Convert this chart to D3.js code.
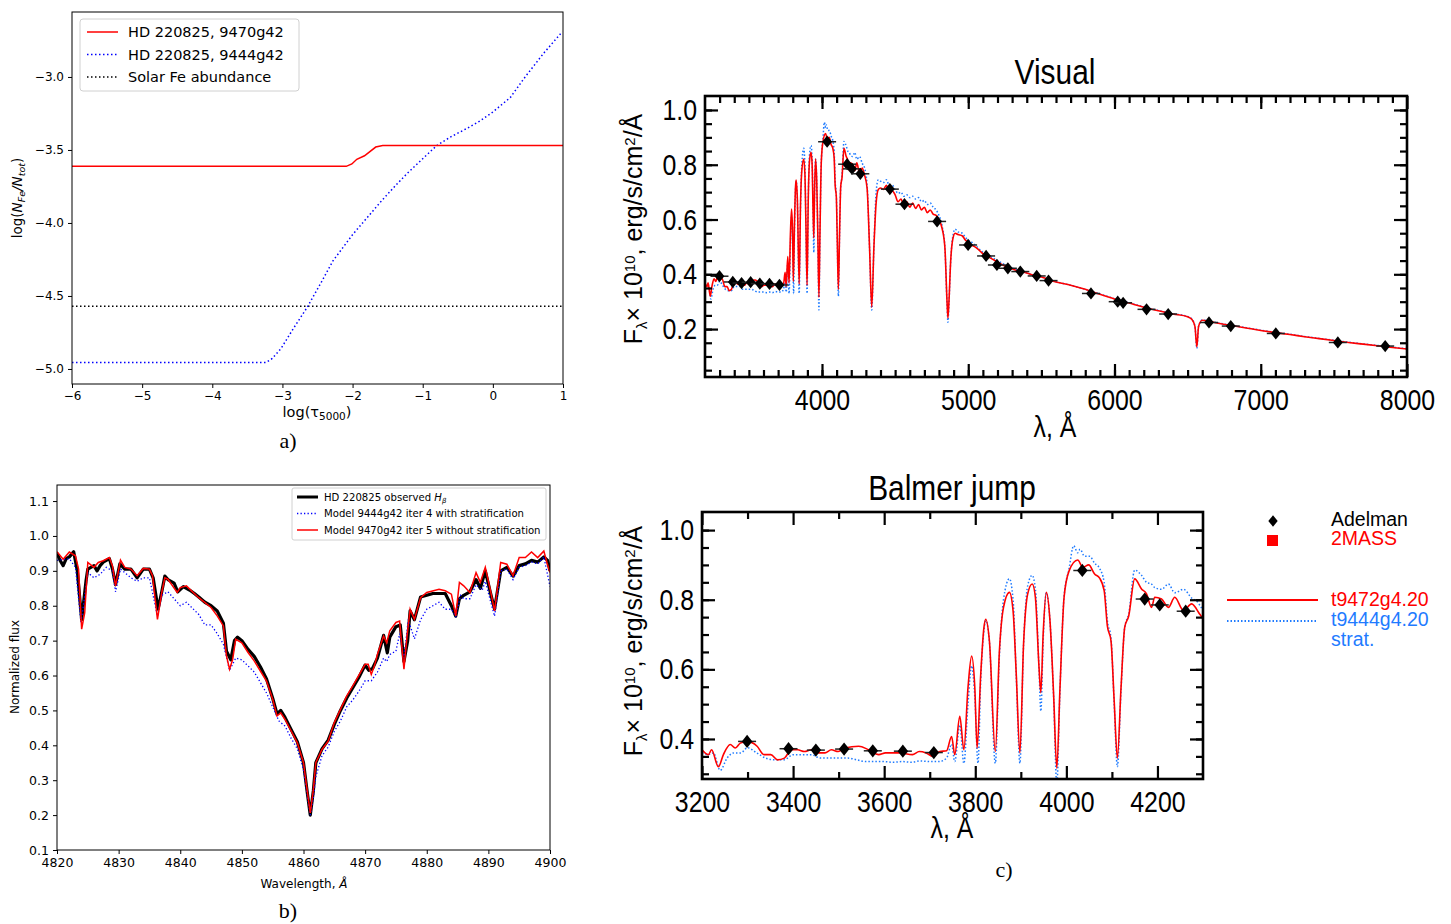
<!DOCTYPE html>
<html>
<head>
<meta charset="utf-8">
<script src="https://cdn.jsdelivr.net/npm/d3@7"></script>
<style>
  body { margin: 0; background: #fff; }
  svg { display: block; }
</style>
</head>
<body>
<svg id="fig" width="1451" height="924"></svg>
<script>
//// data: panel a (Fe stratification)
const tauTicks = [-6, -5, -4, -3, -2, -1, 0, 1];
const abundTicks = [-5.0, -4.5, -4.0, -3.5, -3.0];
const abundNoStrat = [[-6, -3.612], [-2.09, -3.612], [-2.01, -3.596], [-1.94, -3.564], [-1.83, -3.54], [-1.67, -3.48], [-1.57, -3.47], [1, -3.47]];
const abundStrat = [[-6, -4.955], [-3.23, -4.955], [-3.15, -4.93], [-3.02, -4.86], [-2.84, -4.72], [-2.65, -4.58], [-2.45, -4.41], [-2.28, -4.26], [-2.0, -4.08], [-1.75, -3.94], [-1.59, -3.85], [-1.4, -3.75], [-1.23, -3.665], [-1.0, -3.56], [-0.8, -3.47], [-0.6, -3.41], [-0.38, -3.355], [-0.18, -3.3], [0.0, -3.24], [0.25, -3.14], [0.46, -3.0], [0.72, -2.84], [0.99, -2.69]];
const solarFe = -4.57;

//// data: panel b (H beta profile)
const waveTicks = [4820, 4830, 4840, 4850, 4860, 4870, 4880, 4890, 4900];
const fluxTicks = [0.1, 0.2, 0.3, 0.4, 0.5, 0.6, 0.7, 0.8, 0.9, 1.0, 1.1];
const obsHb = [[4820, 0.95], [4820.5, 0.93], [4821, 0.915], [4821.5, 0.935], [4822, 0.94], [4822.7, 0.955], [4823.3, 0.9], [4824, 0.76], [4824.7, 0.87], [4825, 0.905], [4825.5, 0.91], [4826, 0.915], [4826.5, 0.9], [4827, 0.915], [4827.5, 0.925], [4828.5, 0.935], [4829, 0.905], [4829.5, 0.86], [4830.2, 0.92], [4831, 0.905], [4832, 0.905], [4833, 0.88], [4834, 0.905], [4835, 0.905], [4835.6, 0.88], [4836.4, 0.79], [4837, 0.84], [4837.5, 0.885], [4838, 0.875], [4839, 0.865], [4839.6, 0.84], [4840.5, 0.855], [4841.5, 0.845], [4842.3, 0.835], [4843, 0.825], [4844, 0.81], [4845, 0.8], [4846, 0.785], [4847, 0.75], [4847.5, 0.67], [4848.2, 0.645], [4848.8, 0.7], [4849.3, 0.71], [4850, 0.7], [4851, 0.675], [4852, 0.655], [4853, 0.625], [4854, 0.59], [4855, 0.535], [4855.7, 0.49], [4856.3, 0.5], [4857, 0.48], [4858, 0.445], [4859, 0.41], [4860, 0.35], [4860.5, 0.28], [4861.1, 0.2], [4861.6, 0.27], [4862, 0.35], [4863, 0.39], [4864, 0.415], [4865, 0.46], [4866, 0.5], [4867, 0.535], [4868, 0.565], [4869, 0.595], [4870, 0.63], [4870.6, 0.615], [4871.2, 0.62], [4872, 0.65], [4873, 0.715], [4873.6, 0.665], [4874, 0.71], [4875, 0.74], [4875.7, 0.745], [4876.3, 0.64], [4876.9, 0.7], [4877.3, 0.785], [4878, 0.76], [4879, 0.825], [4880, 0.83], [4881, 0.835], [4882, 0.835], [4883, 0.835], [4884, 0.8], [4884.7, 0.77], [4885.3, 0.82], [4886, 0.83], [4887, 0.84], [4888, 0.875], [4888.7, 0.85], [4889.5, 0.9], [4890.3, 0.84], [4891, 0.79], [4892, 0.9], [4893, 0.91], [4894, 0.885], [4895, 0.915], [4896, 0.92], [4897, 0.93], [4898, 0.925], [4899, 0.94], [4899.6, 0.93], [4900, 0.9]];
const modelStratHb = [[4820, 0.93], [4822, 0.935], [4823, 0.91], [4823.9, 0.75], [4825, 0.895], [4826, 0.88], [4827, 0.89], [4828, 0.91], [4829, 0.9], [4829.5, 0.84], [4830.3, 0.905], [4832, 0.88], [4833, 0.87], [4834, 0.88], [4835, 0.88], [4836.3, 0.77], [4837, 0.83], [4838, 0.84], [4839.5, 0.81], [4840, 0.8], [4841, 0.81], [4843, 0.775], [4844, 0.745], [4845, 0.745], [4846, 0.72], [4847, 0.69], [4848, 0.615], [4849, 0.65], [4850, 0.645], [4852, 0.61], [4854, 0.55], [4855, 0.51], [4856, 0.47], [4857, 0.455], [4858, 0.42], [4859, 0.39], [4860, 0.33], [4860.5, 0.27], [4861.1, 0.2], [4861.6, 0.25], [4862, 0.31], [4863, 0.37], [4864, 0.395], [4865, 0.44], [4866, 0.47], [4867, 0.51], [4868, 0.53], [4869, 0.555], [4870, 0.585], [4871, 0.585], [4872, 0.61], [4873, 0.65], [4873.5, 0.64], [4874, 0.66], [4875, 0.67], [4875.6, 0.72], [4876.3, 0.65], [4877, 0.76], [4878, 0.705], [4879, 0.76], [4880, 0.79], [4881, 0.8], [4882, 0.81], [4883, 0.79], [4884, 0.79], [4884.7, 0.77], [4885.5, 0.83], [4886, 0.82], [4887, 0.82], [4888, 0.86], [4889, 0.845], [4889.5, 0.87], [4891, 0.77], [4892, 0.9], [4893, 0.905], [4894, 0.875], [4895, 0.91], [4896, 0.915], [4897, 0.925], [4898, 0.92], [4899, 0.94], [4900, 0.855]];
const modelNoStratHb = [[4820, 0.955], [4821, 0.933], [4822, 0.954], [4823, 0.943], [4823.5, 0.905], [4824, 0.733], [4824.5, 0.78], [4825, 0.924], [4826, 0.91], [4826.7, 0.924], [4827.5, 0.929], [4828.5, 0.938], [4829, 0.914], [4829.5, 0.857], [4830.3, 0.931], [4831, 0.91], [4832, 0.905], [4833, 0.886], [4834, 0.907], [4835, 0.905], [4835.5, 0.886], [4836.3, 0.761], [4837, 0.838], [4837.5, 0.88], [4838, 0.876], [4839.5, 0.838], [4840, 0.852], [4841, 0.857], [4843, 0.823], [4845, 0.795], [4846, 0.771], [4847, 0.742], [4847.5, 0.656], [4848, 0.618], [4848.5, 0.646], [4849, 0.704], [4850, 0.694], [4851, 0.666], [4852, 0.642], [4853, 0.613], [4854, 0.584], [4855, 0.532], [4855.7, 0.484], [4856.3, 0.493], [4857, 0.474], [4858, 0.441], [4859, 0.407], [4860, 0.35], [4860.5, 0.283], [4861.1, 0.206], [4861.6, 0.273], [4862, 0.35], [4863, 0.388], [4864, 0.412], [4865, 0.465], [4866, 0.503], [4867, 0.541], [4868, 0.57], [4870, 0.632], [4870.5, 0.632], [4871, 0.603], [4871.5, 0.627], [4872, 0.661], [4873, 0.713], [4873.5, 0.694], [4874, 0.728], [4875, 0.752], [4875.6, 0.756], [4876, 0.675], [4876.3, 0.618], [4876.8, 0.713], [4877.3, 0.79], [4878, 0.761], [4879, 0.823], [4880, 0.838], [4882, 0.847], [4883, 0.843], [4884, 0.833], [4884.7, 0.771], [4885.3, 0.867], [4886, 0.857], [4887, 0.838], [4888, 0.895], [4888.7, 0.867], [4889.5, 0.91], [4890.3, 0.847], [4891, 0.785], [4892, 0.924], [4893, 0.919], [4894, 0.886], [4895, 0.938], [4896, 0.938], [4897, 0.954], [4898, 0.938], [4899, 0.957], [4899.5, 0.924], [4900, 0.895]];

//// data: panel c (spectral energy distribution)
const visTicksX = [4000, 5000, 6000, 7000, 8000];
const visTicksY = [0.2, 0.4, 0.6, 0.8, 1.0];
const jumpTicksX = [3200, 3400, 3600, 3800, 4000, 4200];
const jumpTicksY = [0.4, 0.6, 0.8, 1.0];
const sedNoStrat = [[3200, 0.369], [3214, 0.355], [3221, 0.369], [3236, 0.32], [3247, 0.355], [3262, 0.384], [3273, 0.374], [3284, 0.388], [3299, 0.393], [3321, 0.379], [3336, 0.355], [3351, 0.355], [3366, 0.34], [3381, 0.345], [3396, 0.369], [3410, 0.369], [3425, 0.364], [3440, 0.369], [3455, 0.36], [3470, 0.36], [3484, 0.369], [3499, 0.364], [3514, 0.374], [3544, 0.379], [3566, 0.369], [3588, 0.355], [3603, 0.36], [3633, 0.36], [3662, 0.355], [3677, 0.364], [3692, 0.36], [3707, 0.35], [3722, 0.364], [3737, 0.366], [3748, 0.407], [3755, 0.355], [3766, 0.465], [3775, 0.369], [3784, 0.547], [3792, 0.638], [3799, 0.547], [3804, 0.374], [3812, 0.586], [3819, 0.72], [3823, 0.744], [3831, 0.682], [3844, 0.364], [3853, 0.653], [3862, 0.778], [3875, 0.821], [3883, 0.768], [3890, 0.586], [3898, 0.36], [3906, 0.672], [3915, 0.816], [3925, 0.845], [3932, 0.807], [3940, 0.605], [3944, 0.533], [3949, 0.7], [3956, 0.821], [3964, 0.74], [3972, 0.528], [3979, 0.316], [3986, 0.547], [3995, 0.807], [4006, 0.883], [4025, 0.914], [4036, 0.893], [4049, 0.9], [4062, 0.874], [4073, 0.862], [4083, 0.826], [4090, 0.725], [4098, 0.682], [4105, 0.509], [4112, 0.345], [4120, 0.547], [4128, 0.72], [4137, 0.754], [4150, 0.86], [4165, 0.831], [4176, 0.817], [4187, 0.778], [4194, 0.807], [4209, 0.802], [4224, 0.778], [4238, 0.807], [4257, 0.769], [4275, 0.788], [4290, 0.764], [4308, 0.716], [4325, 0.5], [4340, 0.28], [4355, 0.5], [4370, 0.66], [4385, 0.71], [4400, 0.715], [4420, 0.71], [4440, 0.725], [4460, 0.7], [4480, 0.705], [4500, 0.69], [4520, 0.665], [4540, 0.675], [4560, 0.65], [4580, 0.665], [4600, 0.645], [4620, 0.66], [4640, 0.64], [4660, 0.655], [4680, 0.635], [4700, 0.645], [4720, 0.625], [4740, 0.635], [4760, 0.62], [4780, 0.615], [4800, 0.6], [4820, 0.57], [4840, 0.5], [4855, 0.3], [4861, 0.24], [4868, 0.3], [4880, 0.45], [4895, 0.53], [4910, 0.55], [4930, 0.545], [4960, 0.54], [4980, 0.525], [5000, 0.515], [5030, 0.505], [5060, 0.495], [5100, 0.475], [5150, 0.46], [5200, 0.445], [5250, 0.43], [5300, 0.42], [5350, 0.41], [5400, 0.405], [5450, 0.395], [5500, 0.39], [5600, 0.372], [5700, 0.36], [5800, 0.345], [5900, 0.327], [6000, 0.31], [6100, 0.295], [6200, 0.28], [6300, 0.267], [6400, 0.255], [6500, 0.245], [6530, 0.235], [6550, 0.21], [6563, 0.135], [6575, 0.21], [6600, 0.232], [6650, 0.228], [6700, 0.222], [6800, 0.213], [6900, 0.204], [7000, 0.195], [7100, 0.187], [7200, 0.18], [7300, 0.172], [7400, 0.165], [7500, 0.158], [7600, 0.151], [7700, 0.145], [7800, 0.139], [7900, 0.133], [8000, 0.127]];
const sedStrat = [[3200, 0.36], [3214, 0.355], [3225, 0.36], [3240, 0.31], [3255, 0.345], [3270, 0.36], [3285, 0.36], [3300, 0.375], [3320, 0.36], [3340, 0.345], [3360, 0.34], [3380, 0.34], [3400, 0.355], [3420, 0.355], [3440, 0.355], [3460, 0.345], [3480, 0.345], [3500, 0.345], [3520, 0.345], [3540, 0.34], [3560, 0.335], [3580, 0.335], [3600, 0.335], [3620, 0.333], [3640, 0.335], [3660, 0.333], [3680, 0.337], [3700, 0.335], [3720, 0.335], [3737, 0.345], [3748, 0.385], [3755, 0.335], [3766, 0.44], [3775, 0.33], [3784, 0.5], [3792, 0.61], [3799, 0.52], [3806, 0.33], [3812, 0.57], [3819, 0.71], [3823, 0.74], [3831, 0.68], [3844, 0.33], [3853, 0.64], [3862, 0.8], [3875, 0.86], [3883, 0.8], [3890, 0.58], [3898, 0.33], [3906, 0.67], [3915, 0.84], [3925, 0.87], [3932, 0.83], [3940, 0.6], [3944, 0.48], [3949, 0.68], [3956, 0.82], [3964, 0.74], [3972, 0.52], [3979, 0.27], [3986, 0.54], [3995, 0.81], [4006, 0.89], [4016, 0.955], [4025, 0.935], [4030, 0.945], [4040, 0.925], [4051, 0.925], [4062, 0.905], [4073, 0.89], [4083, 0.85], [4090, 0.74], [4098, 0.69], [4105, 0.5], [4112, 0.32], [4120, 0.54], [4128, 0.72], [4137, 0.76], [4150, 0.885], [4165, 0.87], [4176, 0.85], [4187, 0.845], [4194, 0.835], [4209, 0.83], [4224, 0.845], [4238, 0.82], [4257, 0.83], [4275, 0.805], [4290, 0.79], [4308, 0.73], [4325, 0.5], [4340, 0.27], [4355, 0.5], [4370, 0.7], [4385, 0.745], [4400, 0.74], [4420, 0.735], [4440, 0.745], [4460, 0.725], [4480, 0.725], [4500, 0.71], [4520, 0.695], [4540, 0.7], [4560, 0.685], [4580, 0.69], [4600, 0.68], [4620, 0.685], [4640, 0.675], [4660, 0.68], [4680, 0.665], [4700, 0.67], [4720, 0.655], [4740, 0.66], [4760, 0.645], [4780, 0.635], [4800, 0.615], [4820, 0.58], [4840, 0.5], [4855, 0.29], [4861, 0.225], [4868, 0.29], [4880, 0.45], [4895, 0.54], [4910, 0.565], [4930, 0.555], [4960, 0.55], [4980, 0.535], [5000, 0.525], [5030, 0.515], [5060, 0.5], [5100, 0.48], [5150, 0.465], [5200, 0.45], [5250, 0.435], [5300, 0.423], [5350, 0.413], [5400, 0.405], [5450, 0.397], [5500, 0.39], [5600, 0.373], [5700, 0.36], [5800, 0.345], [5900, 0.328], [6000, 0.311], [6100, 0.296], [6200, 0.281], [6300, 0.268], [6400, 0.256], [6500, 0.246], [6530, 0.236], [6550, 0.21], [6563, 0.13], [6575, 0.21], [6600, 0.233], [6650, 0.229], [6700, 0.223], [6800, 0.214], [6900, 0.205], [7000, 0.196], [7100, 0.188], [7200, 0.181], [7300, 0.173], [7400, 0.166], [7500, 0.159], [7600, 0.152], [7700, 0.146], [7800, 0.14], [7900, 0.134], [8000, 0.128]];
const adelman = [[3299, 0.393], [3390, 0.372], [3450, 0.368], [3512, 0.371], [3575, 0.366], [3641, 0.365], [3709, 0.361], [4035, 0.884], [4172, 0.802], [4205, 0.785], [4262, 0.767], [4464, 0.711], [4564, 0.656], [4787, 0.593], [4999, 0.507], [5122, 0.467], [5196, 0.434], [5271, 0.422], [5356, 0.41], [5468, 0.394], [5549, 0.377], [5839, 0.33], [6022, 0.3], [6059, 0.296], [6219, 0.272], [6367, 0.255], [6646, 0.224], [6795, 0.211], [7103, 0.184], [7527, 0.151], [7851, 0.138]];

const MPL = '"DejaVu Sans", sans-serif';
const IDL = '"Liberation Sans", Arial, sans-serif';
const SERIF = '"Liberation Serif", "Times New Roman", serif';
const RED = '#ff0000';
const BLUE = '#0000ff';
const SKY = '#1f7bff';
const NARROW = 0.83;

const svg = d3.select('#fig');
const defs = svg.append('defs');

function styleAxis(g, font, size) {
  g.select('.domain').remove();
  g.selectAll('text').attr('font-family', font).attr('font-size', size).attr('fill', '#000');
  g.selectAll('line').attr('stroke', '#000');
}

// squeeze text horizontally about its anchor point (IDL fonts are narrow)
function condense(sel) {
  sel.each(function () {
    const t = d3.select(this);
    const x = +t.attr('x') || 0;
    const y = +t.attr('y') || 0;
    t.attr('x', 0).attr('y', 0).attr('transform', `translate(${x},${y}) scale(${NARROW},1)`);
  });
}

function clipFor(id, x, y) {
  defs.append('clipPath').attr('id', id).append('rect')
    .attr('x', x.range()[0]).attr('y', y.range()[1])
    .attr('width', x.range()[1] - x.range()[0])
    .attr('height', y.range()[0] - y.range()[1]);
}

////////////// panel a
const xA = d3.scaleLinear().domain([-6, 1]).range([72, 563]);
const yA = d3.scaleLinear().domain([-5.103, -2.555]).range([384, 12]);
const lineA = d3.line().x(d => xA(d[0])).y(d => yA(d[1]));
clipFor('clipA', xA, yA);
const plotA = svg.append('g').attr('clip-path', 'url(#clipA)');

plotA.append('path').datum([[-6, solarFe], [1, solarFe]])
  .attr('d', lineA).attr('fill', 'none').attr('stroke', '#000')
  .attr('stroke-width', 1.5).attr('stroke-dasharray', '1.5,2.5');
plotA.append('path').datum(abundStrat)
  .attr('d', lineA).attr('fill', 'none').attr('stroke', BLUE)
  .attr('stroke-width', 1.5).attr('stroke-dasharray', '1.5,2.5');
plotA.append('path').datum(abundNoStrat)
  .attr('d', lineA).attr('fill', 'none').attr('stroke', RED).attr('stroke-width', 1.5);

const axA = svg.append('g').attr('transform', 'translate(0,384)')
  .call(d3.axisBottom(xA).tickValues(tauTicks).tickSize(4).tickPadding(3).tickFormat(d3.format('d')));
styleAxis(axA, MPL, 12);
const ayA = svg.append('g').attr('transform', 'translate(72,0)')
  .call(d3.axisLeft(yA).tickValues(abundTicks).tickSize(4).tickPadding(4).tickFormat(d3.format('.1f')));
styleAxis(ayA, MPL, 12);
svg.append('rect').attr('x', 72).attr('y', 12).attr('width', 491).attr('height', 372)
  .attr('fill', 'none').attr('stroke', '#000').attr('stroke-width', 1);

// legend a
const legA = svg.append('g');
legA.append('rect').attr('x', 80).attr('y', 19).attr('width', 219).attr('height', 72).attr('rx', 3)
  .attr('fill', '#fff').attr('fill-opacity', 0.8).attr('stroke', '#d0d0d0');
const legAItems = [
  { label: 'HD 220825, 9470g42', color: RED, dash: null },
  { label: 'HD 220825, 9444g42', color: BLUE, dash: '1.5,2.5' },
  { label: 'Solar Fe abundance', color: '#000', dash: '1.5,2.5' }
];
legAItems.forEach((d, i) => {
  const yy = 32 + i * 22.5;
  legA.append('line').attr('x1', 87).attr('x2', 118).attr('y1', yy).attr('y2', yy)
    .attr('stroke', d.color).attr('stroke-width', 1.5).attr('stroke-dasharray', d.dash);
  legA.append('text').attr('x', 128).attr('y', yy + 5).text(d.label)
    .attr('font-family', MPL).attr('font-size', 14.5);
});

const ylA = svg.append('text').attr('transform', 'translate(22,198) rotate(-90)')
  .attr('text-anchor', 'middle').attr('font-family', MPL).attr('font-size', 13.5);
ylA.append('tspan').text('log(');
ylA.append('tspan').attr('font-style', 'italic').text('N');
ylA.append('tspan').attr('font-style', 'italic').attr('font-size', 9.5).attr('baseline-shift', '-25%').text('Fe');
ylA.append('tspan').attr('font-style', 'italic').text('/N');
ylA.append('tspan').attr('font-style', 'italic').attr('font-size', 9.5).attr('baseline-shift', '-25%').text('tot');
ylA.append('tspan').text(')');

const xlA = svg.append('text').attr('x', 317).attr('y', 417).attr('text-anchor', 'middle')
  .attr('font-family', MPL).attr('font-size', 14.5);
xlA.append('tspan').text('log(τ');
xlA.append('tspan').attr('font-size', 10.5).attr('baseline-shift', '-25%').text('5000');
xlA.append('tspan').text(')');

svg.append('text').attr('x', 288).attr('y', 448).attr('text-anchor', 'middle')
  .attr('font-family', SERIF).attr('font-size', 22).text('a)');

////////////// panel b
const xB = d3.scaleLinear().domain([4820, 4900]).range([57, 550]);
const yB = d3.scaleLinear().domain([0.1, 1.146]).range([850, 485]);
const lineB = d3.line().x(d => xB(d[0])).y(d => yB(d[1]));
clipFor('clipB', xB, yB);
const plotB = svg.append('g').attr('clip-path', 'url(#clipB)');

plotB.append('path').datum(obsHb).attr('d', lineB).attr('fill', 'none')
  .attr('stroke', '#000').attr('stroke-width', 3.2).attr('stroke-linejoin', 'round');
plotB.append('path').datum(modelStratHb).attr('d', lineB).attr('fill', 'none')
  .attr('stroke', BLUE).attr('stroke-width', 1.3).attr('stroke-dasharray', '1.3,2.2');
plotB.append('path').datum(modelNoStratHb).attr('d', lineB).attr('fill', 'none')
  .attr('stroke', RED).attr('stroke-width', 1.5);

const axB = svg.append('g').attr('transform', 'translate(0,850)')
  .call(d3.axisBottom(xB).tickValues(waveTicks).tickSize(4).tickPadding(4).tickFormat(d3.format('d')));
styleAxis(axB, MPL, 12.5);
const ayB = svg.append('g').attr('transform', 'translate(57,0)')
  .call(d3.axisLeft(yB).tickValues(fluxTicks).tickSize(4).tickPadding(4).tickFormat(d3.format('.1f')));
styleAxis(ayB, MPL, 12.5);
svg.append('rect').attr('x', 57).attr('y', 485).attr('width', 493).attr('height', 365)
  .attr('fill', 'none').attr('stroke', '#000').attr('stroke-width', 1);

const legB = svg.append('g');
legB.append('rect').attr('x', 292).attr('y', 488).attr('width', 254).attr('height', 52).attr('rx', 2)
  .attr('fill', '#fff').attr('fill-opacity', 0.8).attr('stroke', '#d0d0d0');
const legBItems = [
  { label: 'HD 220825 observed ', color: '#000', w: 3, dash: null, sub: true },
  { label: 'Model 9444g42 iter 4 with stratification', color: BLUE, w: 1.3, dash: '1.3,2.2' },
  { label: 'Model 9470g42 iter 5 without stratification', color: RED, w: 1.5, dash: null }
];
legBItems.forEach((d, i) => {
  const yy = 497 + i * 16.5;
  legB.append('line').attr('x1', 297).attr('x2', 318).attr('y1', yy).attr('y2', yy)
    .attr('stroke', d.color).attr('stroke-width', d.w).attr('stroke-dasharray', d.dash);
  const t = legB.append('text').attr('x', 324).attr('y', yy + 3.5)
    .attr('font-family', MPL).attr('font-size', 10.1);
  t.append('tspan').text(d.label);
  if (d.sub) {
    t.append('tspan').attr('font-style', 'italic').text('H');
    t.append('tspan').attr('font-style', 'italic').attr('font-size', 7).attr('baseline-shift', '-25%').text('β');
  }
});

svg.append('text').attr('transform', 'translate(19,667) rotate(-90)').attr('text-anchor', 'middle')
  .attr('font-family', MPL).attr('font-size', 12).text('Normalized flux');
const xlB = svg.append('text').attr('x', 304).attr('y', 888).attr('text-anchor', 'middle')
  .attr('font-family', MPL).attr('font-size', 12);
xlB.append('tspan').text('Wavelength, ');
xlB.append('tspan').attr('font-style', 'italic').text('Å');

svg.append('text').attr('x', 288).attr('y', 918).attr('text-anchor', 'middle')
  .attr('font-family', SERIF).attr('font-size', 22).text('b)');

////////////// panel c (IDL style frames)
function idlFrame(x, y, xMajor, xMinor, yMajor, yMinor) {
  const [x0, x1] = x.range();
  const [y0, y1] = y.range();
  const g = svg.append('g');
  const specs = [
    [d3.axisBottom, x, `translate(0,${y0})`, true],
    [d3.axisTop, x, `translate(0,${y1})`, false],
    [d3.axisLeft, y, `translate(${x0},0)`, true],
    [d3.axisRight, y, `translate(${x1},0)`, false]
  ];
  specs.forEach(([ax, sc, tr, labels]) => {
    const isX = sc === x;
    const minor = g.append('g').attr('transform', tr)
      .call(ax(sc).tickValues(isX ? xMinor : yMinor).tickSize(-7).tickFormat(''));
    styleAxis(minor, IDL, 30);
    minor.selectAll('line').attr('stroke-width', 2.2);
    const major = g.append('g').attr('transform', tr)
      .call(ax(sc).tickValues(isX ? xMajor : yMajor).tickSize(-13)
        .tickPadding(isX ? 12 : 8)
        .tickFormat(labels ? (isX ? d3.format('d') : d3.format('.1f')) : ''));
    styleAxis(major, IDL, 30);
    major.selectAll('line').attr('stroke-width', 2.2);
    condense(major.selectAll('text'));
  });
  g.append('rect').attr('x', x0).attr('y', y1).attr('width', x1 - x0).attr('height', y0 - y1)
    .attr('fill', 'none').attr('stroke', '#000').attr('stroke-width', 2.6);
  return g;
}

function fluxLabel(cx, cy) {
  const t = svg.append('text').attr('transform', `translate(${cx},${cy}) rotate(-90)`)
    .attr('text-anchor', 'middle').attr('font-family', IDL).attr('font-size', 25);
  t.append('tspan').text('F');
  t.append('tspan').attr('font-size', 15).attr('baseline-shift', '-30%').text('λ');
  t.append('tspan').text('× 10');
  t.append('tspan').attr('font-size', 15).attr('baseline-shift', '45%').text('10');
  t.append('tspan').text(', erg/s/cm');
  t.append('tspan').attr('font-size', 15).attr('baseline-shift', '45%').text('2');
  t.append('tspan').text('/Å');
}

// diamond a little wider than d3's default rhombus
const diamond = {
  draw(ctx, size) {
    const h = Math.sqrt(size / 1.6);
    const w = h * 0.8;
    ctx.moveTo(0, -h); ctx.lineTo(w, 0); ctx.lineTo(0, h); ctx.lineTo(-w, 0); ctx.closePath();
  }
};

function drawSed(plot, x, y, diamondSize) {
  const line = d3.line().curve(d3.curveMonotoneX).x(d => x(d[0])).y(d => y(d[1]));
  plot.append('path').datum(sedStrat).attr('d', line).attr('fill', 'none')
    .attr('stroke', SKY).attr('stroke-width', 1.5).attr('stroke-dasharray', '1.5,2');
  plot.append('path').datum(sedNoStrat).attr('d', line).attr('fill', 'none')
    .attr('stroke', RED).attr('stroke-width', 1.6);
  const pts = plot.selectAll('g.adel').data(adelman.filter(d => d[0] >= x.domain()[0] && d[0] <= x.domain()[1]))
    .enter().append('g').attr('class', 'adel')
    .attr('transform', d => `translate(${x(d[0])},${y(d[1])})`);
  pts.append('line').attr('x1', -9).attr('x2', 9).attr('stroke', '#222').attr('stroke-width', 1.5);
  pts.append('path').attr('d', d3.symbol(diamond, diamondSize)).attr('fill', '#000');
}

// Visual
const xV = d3.scaleLinear().domain([3200, 8000]).range([705, 1407]);
const yV = d3.scaleLinear().domain([0.025, 1.051]).range([377, 96]);
clipFor('clipV', xV, yV);
drawSed(svg.append('g').attr('clip-path', 'url(#clipV)'), xV, yV, 60);
idlFrame(xV, yV, visTicksX, d3.range(3300, 8000, 100), visTicksY, d3.range(0.05, 1.05, 0.05));
condense(svg.append('text').attr('x', 1055).attr('y', 84).attr('text-anchor', 'middle')
  .attr('font-family', IDL).attr('font-size', 36).text('Visual'));
fluxLabel(642, 229);
condense(svg.append('text').attr('x', 1055).attr('y', 437).attr('text-anchor', 'middle')
  .attr('font-family', IDL).attr('font-size', 30).text('λ, Å'));

// Balmer jump
const xJ = d3.scaleLinear().domain([3200, 4300]).range([702, 1203]);
const yJ = d3.scaleLinear().domain([0.285, 1.052]).range([779, 512]);
clipFor('clipJ', xJ, yJ);
drawSed(svg.append('g').attr('clip-path', 'url(#clipJ)'), xJ, yJ, 70);
idlFrame(xJ, yJ, jumpTicksX, d3.range(3300, 4300, 200), jumpTicksY, d3.range(0.3, 1.05, 0.05));
condense(svg.append('text').attr('x', 952).attr('y', 500).attr('text-anchor', 'middle')
  .attr('font-family', IDL).attr('font-size', 36).text('Balmer jump'));
fluxLabel(642, 641);
condense(svg.append('text').attr('x', 952).attr('y', 838).attr('text-anchor', 'middle')
  .attr('font-family', IDL).attr('font-size', 30).text('λ, Å'));

// legend c
const legC = svg.append('g').attr('font-family', IDL).attr('font-size', 19.5);
legC.append('path').attr('transform', 'translate(1273,521)')
  .attr('d', d3.symbol(diamond, 55)).attr('fill', '#000');
legC.append('rect').attr('x', 1267).attr('y', 535).attr('width', 11).attr('height', 11).attr('fill', RED);
legC.append('line').attr('x1', 1227).attr('x2', 1318).attr('y1', 600).attr('y2', 600)
  .attr('stroke', RED).attr('stroke-width', 2);
legC.append('line').attr('x1', 1227).attr('x2', 1318).attr('y1', 621).attr('y2', 621)
  .attr('stroke', SKY).attr('stroke-width', 1.8).attr('stroke-dasharray', '1.5,2');
const legCText = [
  { label: 'Adelman', color: '#000', y: 526 },
  { label: '2MASS', color: RED, y: 545 },
  { label: 't9472g4.20', color: RED, y: 606 },
  { label: 't9444g4.20', color: SKY, y: 626 },
  { label: 'strat.', color: SKY, y: 646 }
];
legCText.forEach(d => {
  legC.append('text').attr('x', 1331).attr('y', d.y).attr('fill', d.color).text(d.label);
});

svg.append('text').attr('x', 1004).attr('y', 877).attr('text-anchor', 'middle')
  .attr('font-family', SERIF).attr('font-size', 22).text('c)');
</script>
</body>
</html>
